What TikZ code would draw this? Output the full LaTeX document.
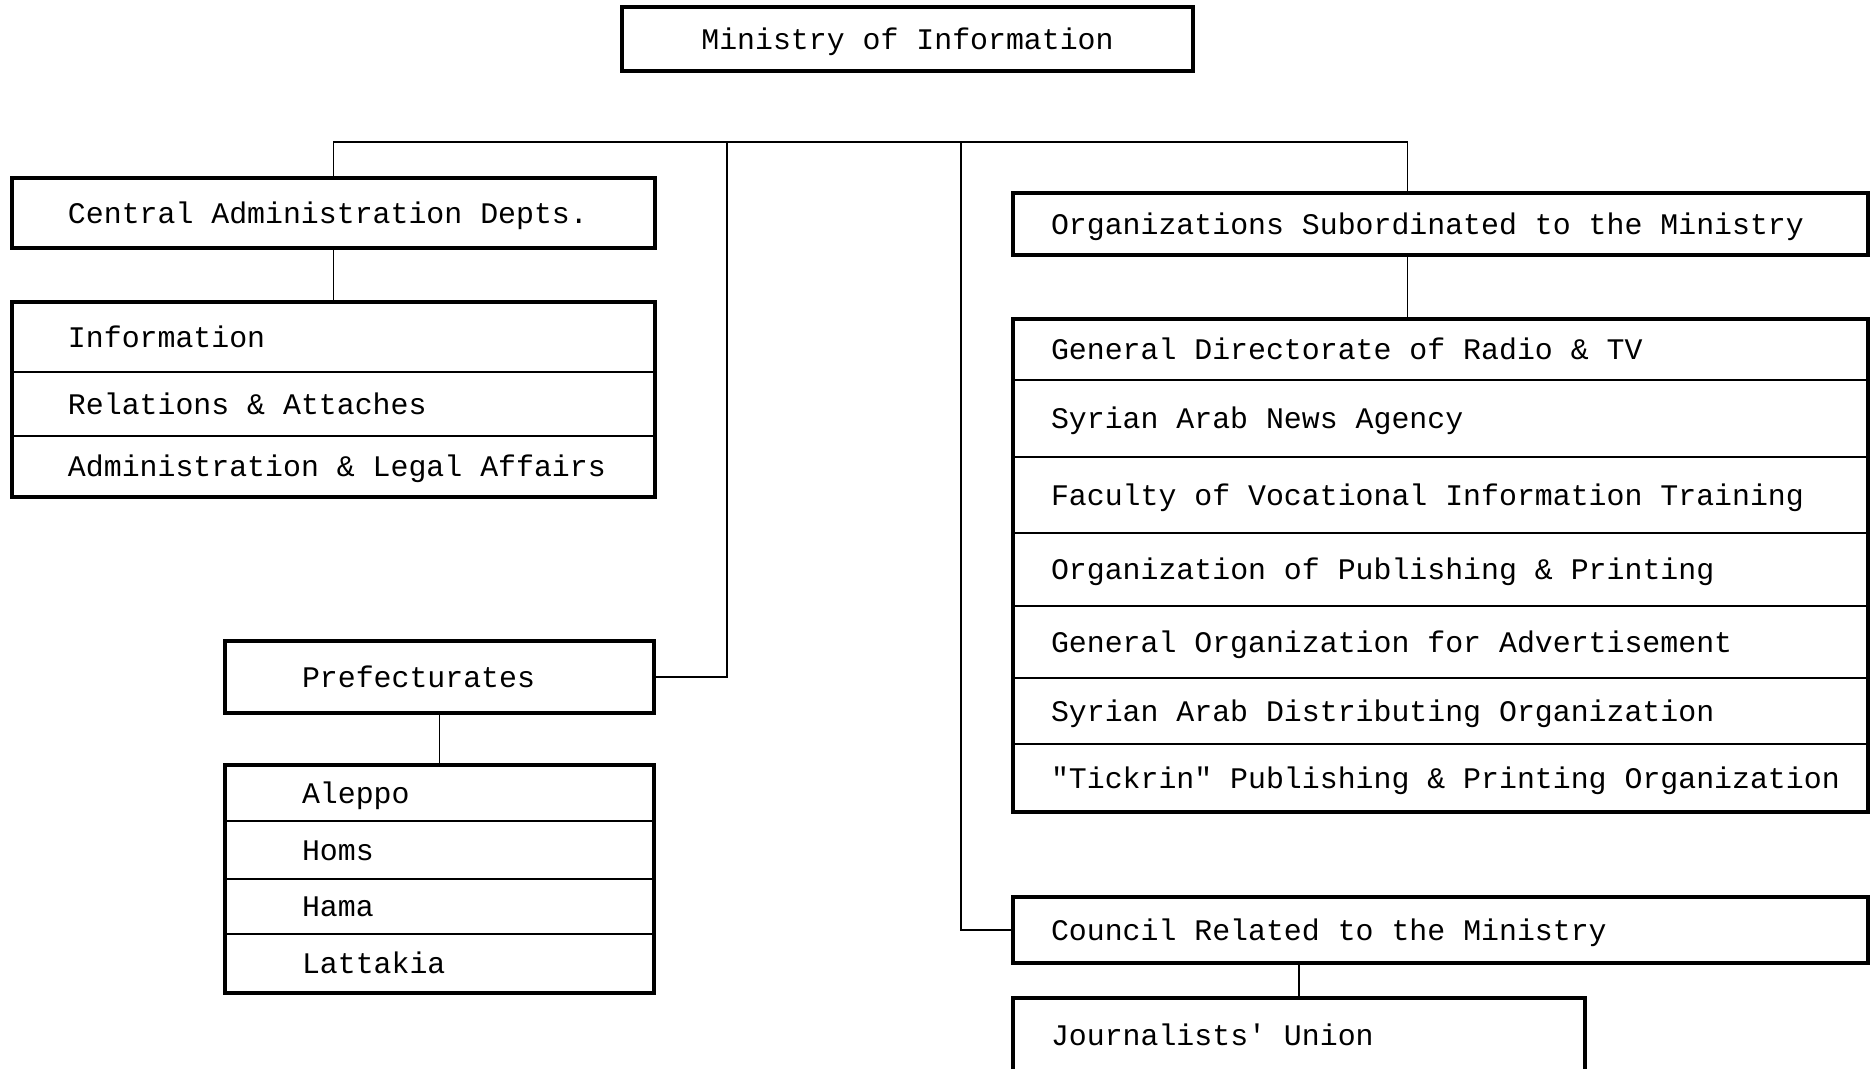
\documentclass[tikz,border=0pt]{standalone}
\usepackage{fontspec}
\newfontfamily\typer{Liberation Mono}
\newcommand{\boxfont}{\typer\fontsize{8.5}{10}\selectfont}
\usepackage{tikz}
\usetikzlibrary{positioning}

\begin{document}
\begin{tikzpicture}
    % Define styles for the boxes
    \tikzstyle{box} = [
        draw, line width=0.9pt, anchor=north west, inner xsep=0pt,
        inner ysep=0pt, outer sep=0pt, align=left, text height=1.8ex,
        text depth=0.45ex, font=\boxfont,
        execute at begin node={\spaceskip=0.6em\relax}
    ]
    \tikzstyle{box_l} = [
        box, text width=6.43cm, execute at begin node={\hspace*{0.56cm}}
    ]
    \tikzstyle{box_m} = [
        box, text width=4.29cm, execute at begin node={\hspace*{0.77cm}}
    ]
    \tikzstyle{box_r} = [
        box, text width=8.55cm, execute at begin node={\hspace*{0.38cm}}
    ]
    \tikzstyle{row} = [line width=0.6pt]
    \tikzstyle{frame} = [line width=1pt]
    \tikzstyle{link} = [line width=0.5pt]

    % Page frame
    \useasboundingbox (0,0) rectangle (18.70,-10.69);
    \clip (0,0) rectangle (18.70,-10.69);

    % Ministry
    \node[box, text width=5.71cm, align=center, minimum height=0.64cm]
        (ministry) at (6.22,-0.07) {Ministry of Information};

    % Central Administration
    \node[box_l, minimum height=0.70cm] (central) at (0.12,-1.78)
        {Central Administration Depts.};
    \node[box_l, row, minimum height=0.70cm] (info) at (0.12,-3.02)
        {Information};
    \node[box_l, row, minimum height=0.64cm] (relations) at (info.south west)
        {Relations \& Attaches};
    \node[box_l, row, minimum height=0.61cm] (legal) at (relations.south west)
        {Administration \& Legal Affairs};
    \draw[frame] (info.north west) rectangle (legal.south east);

    % Prefecturates
    \node[box_m, minimum height=0.72cm] (pref) at (2.25,-6.41) {Prefecturates};
    \node[box_m, row, minimum height=0.56cm] (aleppo) at (2.25,-7.65) {Aleppo};
    \node[box_m, row, minimum height=0.58cm] (homs) at (aleppo.south west)
        {Homs};
    \node[box_m, row, minimum height=0.55cm] (hama) at (homs.south west)
        {Hama};
    \node[box_m, row, minimum height=0.59cm] (lattakia) at (hama.south west)
        {Lattakia};
    \draw[frame] (aleppo.north west) rectangle (lattakia.south east);

    % Subordinated organizations
    \node[box_r, minimum height=0.62cm] (org) at (10.13,-1.93)
        {Organizations Subordinated to the Ministry};
    \node[box_r, row, minimum height=0.61cm] (radio) at (10.13,-3.19)
        {General Directorate of Radio \& TV};
    \node[box_r, row, minimum height=0.77cm] (news) at (radio.south west)
        {Syrian Arab News Agency};
    \node[box_r, row, minimum height=0.76cm] (faculty) at (news.south west)
        {Faculty of Vocational Information Training};
    \node[box_r, row, minimum height=0.73cm] (publish) at (faculty.south west)
        {Organization of Publishing \& Printing};
    \node[box_r, row, minimum height=0.72cm] (advert) at (publish.south west)
        {General Organization for Advertisement};
    \node[box_r, row, minimum height=0.66cm] (distrib) at (advert.south west)
        {Syrian Arab Distributing Organization};
    \node[box_r, row, minimum height=0.68cm] (tickrin) at (distrib.south west)
        {"Tickrin" Publishing \& Printing Organization};
    \draw[frame] (radio.north west) rectangle (tickrin.south east);

    % Council
    \node[box_r, minimum height=0.66cm] (council) at (10.13,-8.97)
        {Council Related to the Ministry};
    \node[box_r, text width=5.72cm, minimum height=0.74cm] (union)
        at (10.13,-9.98) {Journalists' Union};

    % Bus taps
    \coordinate (bus_p) at (7.27,-1.42);
    \coordinate (bus_c) at (9.61,-1.42);

    % Connectors
    \draw[link] (central.north) -- ++(0,0.36) -| ([xshift=-0.33cm]org.north);
    \draw[link] (pref.east) -| (bus_p);
    \draw[link] (council.west) -| (bus_c);
    \draw[link] (central.south) -- (info.north);
    \draw[link] (pref.south) -- (aleppo.north);
    \draw[link] ([xshift=-0.33cm]org.south) -- ([xshift=-0.33cm]radio.north);
    \draw[link] (union.north) -- (union.north |- council.south);

\end{tikzpicture}
\end{document}
